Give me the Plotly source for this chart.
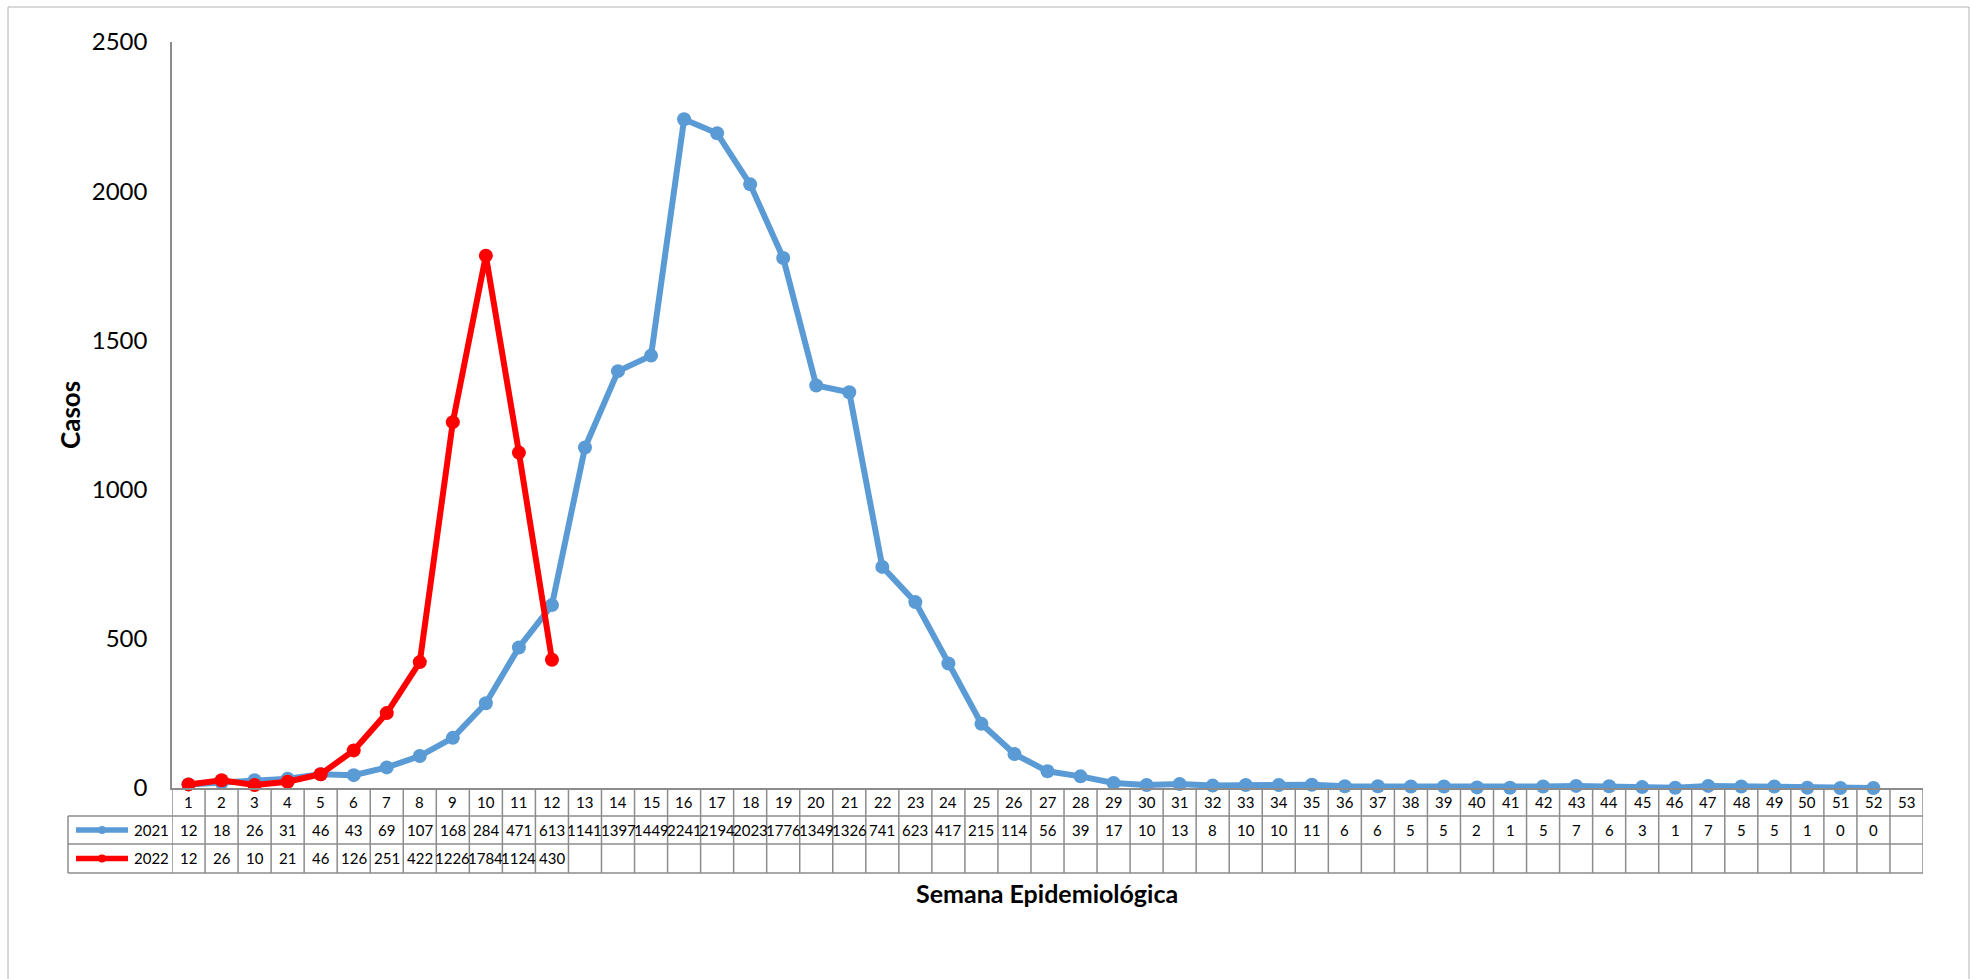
import plotly.graph_objects as go

weeks = list(range(1, 54))
cases_2021 = [12, 18, 26, 31, 46, 43, 69, 107, 168, 284, 471, 613, 1141, 1397, 1449, 2241,
              2194, 2023, 1776, 1349, 1326, 741, 623, 417, 215, 114, 56, 39, 17, 10, 13, 8,
              10, 10, 11, 6, 6, 5, 5, 2, 1, 5, 7, 6, 3, 1, 7, 5, 5, 1, 0, 0]
cases_2022 = [12, 26, 10, 21, 46, 126, 251, 422, 1226, 1784, 1124, 430]
series_names = ["2021", "2022"]
series_colors = ["#5B9BD5", "#FF0000"]
y_ticks = [0, 500, 1000, 1500, 2000, 2500]

W, H = 1970, 979
ML, MR, MT, MB = 172, 47, 42, 191
PW = W - ML - MR
PH = H - MT - MB
FONT = "Lato"
GRID = "#8c8c8c"


def px_x(px):
    return (px - ML) / PW


def px_y(py):
    return (H - MB - py) / PH


fig = go.Figure()
series_values = [cases_2021, cases_2022]
for name, vals, col in zip(series_names, series_values, series_colors):
    fig.add_trace(go.Scatter(
        x=weeks[:len(vals)], y=vals, name=name, mode="lines+markers",
        line=dict(color=col, width=6), marker=dict(color=col, size=14),
        cliponaxis=False, showlegend=False))

# table geometry (pixels)
row_edges = [788, 816, 844, 873]
legend_left = 68
shapes = []
for k in range(len(weeks) + 1):
    shapes.append(dict(type="line", xref="x", yref="paper", x0=k + 0.5, x1=k + 0.5,
                       y0=px_y(row_edges[0]), y1=px_y(row_edges[3]),
                       line=dict(color=GRID, width=1.5)))
shapes.append(dict(type="line", xref="paper", yref="paper", x0=px_x(legend_left), x1=px_x(legend_left),
                   y0=px_y(row_edges[1]), y1=px_y(row_edges[3]), line=dict(color=GRID, width=1.5)))
for r in row_edges[1:]:
    shapes.append(dict(type="line", xref="paper", yref="paper", x0=px_x(legend_left), x1=1,
                       y0=px_y(r), y1=px_y(r), line=dict(color=GRID, width=1.5)))
# outer frame
shapes.append(dict(type="rect", xref="paper", yref="paper", x0=px_x(8), x1=px_x(1969),
                   y0=px_y(990), y1=px_y(7), line=dict(color="#b4b4b4", width=1)))

annotations = []
TF = dict(family=FONT, size=15, color="black")
hy = px_y((row_edges[0] + row_edges[1]) / 2)
for w in weeks:
    annotations.append(dict(x=w, y=hy, xref="x", yref="paper", text=str(w), showarrow=False, font=TF,
                            xanchor="center", yanchor="middle"))
for i, (name, vals, col) in enumerate(zip(series_names, series_values, series_colors)):
    ry = px_y((row_edges[i + 1] + row_edges[i + 2]) / 2)
    for w, v in zip(weeks, vals):
        annotations.append(dict(x=w, y=ry, xref="x", yref="paper", text=str(v), showarrow=False, font=TF,
                                xanchor="center", yanchor="middle"))
    shapes.append(dict(type="line", xref="paper", yref="paper", x0=px_x(76), x1=px_x(128),
                       y0=ry, y1=ry, line=dict(color=col, width=5.5)))
    shapes.append(dict(type="circle", xref="paper", yref="paper", xsizemode="pixel", ysizemode="pixel",
                       xanchor=px_x(102), yanchor=ry, x0=-4, x1=4, y0=-4, y1=4,
                       fillcolor=col, line=dict(color=col, width=0)))
    annotations.append(dict(x=px_x(132), y=ry, xref="paper", yref="paper", text=name, showarrow=False,
                            xanchor="left", yanchor="middle", font=TF))

annotations.append(dict(x=px_x(70), y=px_y(415), xref="paper", yref="paper", text="<b>Casos</b>",
                        textangle=-90, showarrow=False, xanchor="center", yanchor="middle",
                        font=dict(family=FONT, size=26, color="black")))
annotations.append(dict(x=px_x(1047), y=px_y(893), xref="paper", yref="paper",
                        text="<b>Semana Epidemiológica</b>", showarrow=False,
                        xanchor="center", yanchor="middle",
                        font=dict(family=FONT, size=25, color="black")))

fig.update_layout(
    width=W, height=H,
    margin=dict(l=ML, r=MR, t=MT, b=MB, autoexpand=False),
    paper_bgcolor="white", plot_bgcolor="white",
    xaxis=dict(range=[0.5, 53.5], showgrid=False, zeroline=False, showticklabels=False,
               showline=True, linecolor=GRID, linewidth=1.5, ticks=""),
    yaxis=dict(range=[0, 2500], tickvals=y_ticks, showgrid=False, zeroline=False,
               showline=True, linecolor=GRID, linewidth=1.5, ticks="", ticklabelstandoff=18,
               tickfont=dict(family=FONT, size=24, color="black")),
    shapes=shapes, annotations=annotations,
    font=dict(family=FONT),
)

fig.write_html("out.html", config={"displayModeBar": False},
               post_script="document.body.style.margin='0';document.body.style.overflow='hidden';")
